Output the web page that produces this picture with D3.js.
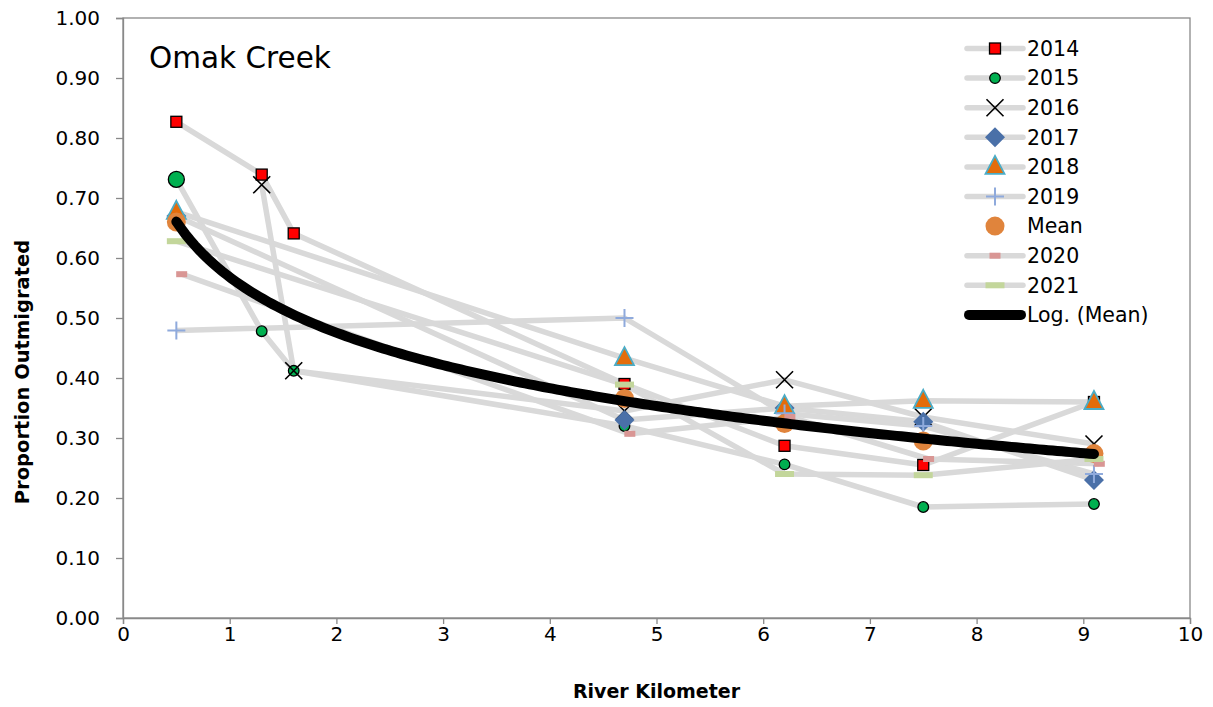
<!DOCTYPE html>
<html><head><meta charset="utf-8">
<script src="https://cdn.jsdelivr.net/npm/d3@7/dist/d3.min.js"></script>
<style>
html,body{margin:0;padding:0;background:#fff;}
svg{display:block;}
</style></head>
<body><svg id="chart" width="1213" height="707"></svg>
<script>
// ---- data ----
const x2014 = [0.5, 1.3, 1.6, 4.7, 6.2, 7.5, 9.1];
const y2014 = [0.827, 0.739, 0.641, 0.390, 0.287, 0.255, 0.360];
const x2015 = [0.5, 1.3, 1.6, 4.7, 6.2, 7.5, 9.1];
const y2015 = [0.731, 0.478, 0.412, 0.320, 0.256, 0.185, 0.190];
const x2016 = [1.3, 1.6, 4.7, 6.2, 7.5, 9.1];
const y2016 = [0.722, 0.412, 0.345, 0.397, 0.335, 0.290];
const x2017 = [0.5, 4.7, 6.2, 7.5, 9.1];
const y2017 = [0.670, 0.330, 0.350, 0.327, 0.230];
const x2018 = [0.5, 4.7, 6.2, 7.5, 9.1];
const y2018 = [0.677, 0.433, 0.353, 0.362, 0.360];
const x2019 = [0.5, 4.7, 6.2, 7.5, 9.1];
const y2019 = [0.479, 0.500, 0.341, 0.320, 0.240];
const xMean = [0.5, 4.7, 6.2, 7.5, 9.1];
const yMean = [0.660, 0.366, 0.324, 0.295, 0.274];
const x2020 = [0.55, 4.75, 6.25, 7.55, 9.15];
const y2020 = [0.573, 0.307, 0.335, 0.265, 0.257];
const x2021 = [0.5, 4.7, 6.2, 7.5, 9.1];
const y2021 = [0.628, 0.389, 0.240, 0.238, 0.265];

const xTicks = [0,1,2,3,4,5,6,7,8,9,10];
const yTicks = [0,0.1,0.2,0.3,0.4,0.5,0.6,0.7,0.8,0.9,1.0];
const legendLabels = ["2014","2015","2016","2017","2018","2019","Mean","2020","2021","Log. (Mean)"];
const chartTitle = "Omak Creek";
const xTitle = "River Kilometer";
const yTitle = "Proportion Outmigrated";

// ---- layout ----
const L = 123, R = 1190, T = 18, B = 618;
const svg = d3.select("#chart");
const x = d3.scaleLinear().domain([0,10]).range([L,R]);
const y = d3.scaleLinear().domain([0,1]).range([B,T]);
const axisColor = "#898989";
const font = "'DejaVu Sans', sans-serif";

// frame
svg.append("rect").attr("x",L).attr("y",T).attr("width",R-L).attr("height",B-T)
  .attr("fill","none").attr("stroke",axisColor).attr("stroke-width",1.3);

// axes
const gx = svg.append("g").attr("transform",`translate(0,${B})`)
  .call(d3.axisBottom(x).tickValues(xTicks).tickFormat(d3.format("d")).tickSize(6).tickPadding(3));
const gy = svg.append("g").attr("transform",`translate(${L},0)`)
  .call(d3.axisLeft(y).tickValues(yTicks).tickFormat(d3.format(".2f")).tickSize(7).tickPadding(16));
[gx,gy].forEach(g=>{
  g.select(".domain").attr("stroke",axisColor).attr("stroke-width",1.3);
  g.selectAll(".tick line").attr("stroke",axisColor).attr("stroke-width",1.3);
  g.selectAll(".tick text").attr("fill","#000").style("font-family",font).style("font-size","20px");
});

// series definitions
const series = [
  {name:"2014", xs:x2014, ys:y2014, line:true, marker:"square"},
  {name:"2015", xs:x2015, ys:y2015, line:true, marker:"circle"},
  {name:"2016", xs:x2016, ys:y2016, line:true, marker:"x"},
  {name:"2017", xs:x2017, ys:y2017, line:true, marker:"diamond"},
  {name:"2018", xs:x2018, ys:y2018, line:true, marker:"triangle"},
  {name:"2019", xs:x2019, ys:y2019, line:true, marker:"plus"},
  {name:"Mean", xs:xMean, ys:yMean, line:false, marker:"mean"},
  {name:"2020", xs:x2020, ys:y2020, line:true, marker:"pink"},
  {name:"2021", xs:x2021, ys:y2021, line:true, marker:"greendash"},
];

const lineGen = d3.line().x(d=>x(d[0])).y(d=>y(d[1]));
const gLines = svg.append("g");
series.forEach(s=>{
  if(!s.line) return;
  const pts = s.xs.map((v,i)=>[v,s.ys[i]]);
  gLines.append("path").attr("d",lineGen(pts)).attr("fill","none")
    .attr("stroke","#d9d9d9").attr("stroke-width",5.5).attr("stroke-linejoin","round");
});

function drawMarker(g, type, cx, cy, big){
  switch(type){
    case "square":
      g.append("rect").attr("x",cx-5.5).attr("y",cy-5.5).attr("width",11).attr("height",11)
        .attr("fill","#ff0000").attr("stroke","#000").attr("stroke-width",1.3); break;
    case "circle":
      g.append("circle").attr("cx",cx).attr("cy",cy).attr("r",big?8:5.3)
        .attr("fill","#00b050").attr("stroke","#000").attr("stroke-width",1.3); break;
    case "x":
      g.append("path").attr("d",`M${cx-8.5},${cy-8.5}L${cx+8.5},${cy+8.5}M${cx+8.5},${cy-8.5}L${cx-8.5},${cy+8.5}`)
        .attr("stroke","#000").attr("stroke-width",1.6); break;
    case "diamond":
      g.append("path").attr("d",`M${cx},${cy-10}L${cx+10},${cy}L${cx},${cy+10}L${cx-10},${cy}Z`)
        .attr("fill","#4a70a8"); break;
    case "triangle":
      g.append("path").attr("d",`M${cx},${cy-11}L${cx+9.5},${cy+7}L${cx-9.5},${cy+7}Z`)
        .attr("fill","#e46c0a").attr("stroke","#4bacc6").attr("stroke-width",1.8).attr("stroke-linejoin","miter"); break;
    case "plus":
      g.append("path").attr("d",`M${cx-9},${cy}L${cx+9},${cy}M${cx},${cy-9}L${cx},${cy+9}`)
        .attr("stroke","#8faadc").attr("stroke-width",2); break;
    case "mean":
      g.append("circle").attr("cx",cx).attr("cy",cy).attr("r",9.5).attr("fill","#e0843c"); break;
    case "pink":
      g.append("rect").attr("x",cx-5.5).attr("y",cy-3).attr("width",11).attr("height",6).attr("fill","#d99694"); break;
    case "greendash":
      g.append("rect").attr("x",cx-9.5).attr("y",cy-3).attr("width",19).attr("height",6).attr("fill","#c3d69b"); break;
  }
}

const gMarks = svg.append("g");
series.forEach(s=>{
  s.xs.forEach((v,i)=>{
    drawMarker(gMarks, s.marker, x(v), y(s.ys[i]), s.marker==="circle" && i===0);
  });
});

// logarithmic trendline fitted on the mean
const lx = xMean.map(Math.log);
const mx = d3.mean(lx), my = d3.mean(yMean);
const slope = d3.sum(lx.map((v,i)=>(v-mx)*(yMean[i]-my))) / d3.sum(lx.map(v=>(v-mx)*(v-mx)));
const icpt = my - slope*mx;
const x0 = d3.min(xMean), x1 = d3.max(xMean);
const trendPts = d3.range(0,201).map(i=>{const xv = x0 + (x1-x0)*i/200; return [xv, icpt + slope*Math.log(xv)];});
svg.append("path").attr("d",lineGen(trendPts)).attr("fill","none")
  .attr("stroke","#000").attr("stroke-width",10).attr("stroke-linecap","round");

// title
svg.append("text").attr("x",149).attr("y",68).text(chartTitle)
  .style("font-family",font).style("font-size","29.5px").attr("fill","#000");

// axis titles
svg.append("text").attr("x",(L+R)/2).attr("y",698).attr("text-anchor","middle").text(xTitle)
  .style("font-family",font).style("font-weight","bold").style("font-size","19px");
svg.append("text").attr("transform",`translate(29,372) rotate(-90)`).attr("text-anchor","middle").text(yTitle)
  .style("font-family",font).style("font-weight","bold").style("font-size","19.5px");

// legend
const lg = svg.append("g");
const legY0 = 48.5, legDy = 29.6, lx0 = 967, lx1 = 1023, lmx = 995, ltx = 1027;
legendLabels.forEach((lab,i)=>{
  const yy = legY0 + i*legDy;
  if(i<9){
    const s = series[i];
    if(s.line) lg.append("line").attr("x1",lx0).attr("x2",lx1).attr("y1",yy).attr("y2",yy)
      .attr("stroke","#d9d9d9").attr("stroke-width",5.5).attr("stroke-linecap","round");
    drawMarker(lg, s.marker, lmx, yy, false);
  } else {
    lg.append("line").attr("x1",lx0+2).attr("x2",lx1-2).attr("y1",yy).attr("y2",yy)
      .attr("stroke","#000").attr("stroke-width",10).attr("stroke-linecap","round");
  }
  lg.append("text").attr("x",ltx).attr("y",yy).attr("dy","0.36em").text(lab)
    .style("font-family",font).style("font-size","20.5px").attr("fill","#000");
});
</script></body></html>
